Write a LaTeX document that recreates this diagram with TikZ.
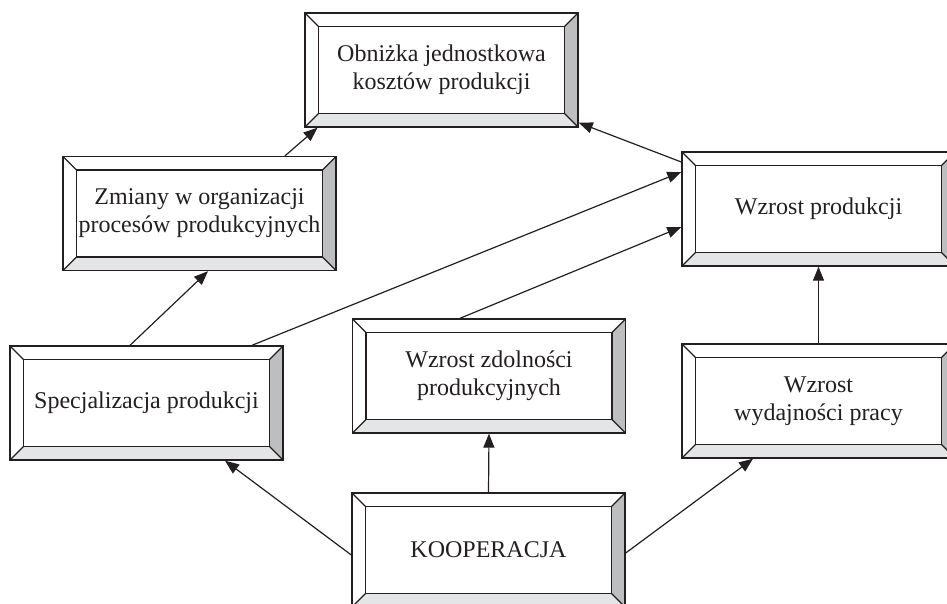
\documentclass[tikz,border=0pt]{standalone}
\usepackage{fontspec}
\setmainfont{Liberation Serif}
\usetikzlibrary{calc,arrows.meta}

\definecolor{ink}{HTML}{231F20}
\definecolor{sidegray}{HTML}{BDBEC0}
\definecolor{floorgray}{HTML}{E4E5E6}

\tikzset{
  bevelbox/.style={
    draw=ink, line width=1.4pt, fill=white,
    minimum width=273pt, minimum height=114pt, inner sep=0pt,
    align=center, text=ink, font=\fontsize{24}{28}\selectfont,
    path picture={
      \path (path picture bounding box.south west) coordinate (bsw)
            (path picture bounding box.north east) coordinate (bne);
      % shaded right and bottom faces of the frame
      \fill[sidegray] (bne) -- ($(bne)+(-13.5pt,-13.5pt)$)
        -- ($(bsw -| bne)+(-13.5pt,13.5pt)$) -- (bsw -| bne) -- cycle;
      \fill[floorgray] (bsw) -- ($(bsw)+(13.5pt,13.5pt)$)
        -- ($(bsw -| bne)+(-13.5pt,13.5pt)$) -- (bsw -| bne) -- cycle;
      % inner panel and mitred corners
      \draw[ink, line width=1.1pt] ($(bsw)+(13.5pt,13.5pt)$) rectangle ($(bne)+(-13.5pt,-13.5pt)$);
      \draw[ink, line width=1.1pt]
        (bsw) -- ($(bsw)+(13.5pt,13.5pt)$)
        (bne) -- ($(bne)+(-13.5pt,-13.5pt)$)
        (bsw |- bne) -- ($(bsw |- bne)+(13.5pt,-13.5pt)$)
        (bsw -| bne) -- ($(bsw -| bne)+(-13.5pt,13.5pt)$);
    }
  },
  link/.style={draw=ink, line width=1.2pt, -{Triangle[length=14pt,width=11pt]}}
}

\begin{document}
\begin{tikzpicture}[x=1pt,y=-1pt]
\useasboundingbox (0,0) rectangle (947,604);
\clip (0,0) rectangle (947,604);

\node[bevelbox] (A) at (441.5,70)  {Obniżka jednostkowa\\kosztów produkcji};
\node[bevelbox] (B) at (199.5,213.5) {Zmiany w organizacji\\procesów produkcyjnych};
\node[bevelbox] (C) at (146.5,403) {Specjalizacja produkcji};
\node[bevelbox] (D) at (489,376)   {Wzrost zdolności\\produkcyjnych};
\node[bevelbox] (E) at (818.5,401) {Wzrost\\wydajności pracy};
\node[bevelbox] (F) at (818.5,209) {Wzrost produkcji};
\node[bevelbox] (G) at (488.5,550) {KOOPERACJA};

\draw[link] ([xshift=85.5pt]B.north) -- ([xshift=-124pt]A.south);
\draw[link] ([yshift=47pt]F.west) -- ([yshift=5pt]A.south east);
\draw[link] ([xshift=-16.5pt]C.north) -- ([xshift=8.5pt]B.south);
\draw[link] ([xshift=105.5pt]C.north) -- ([yshift=37pt]F.west);
\draw[link] ([xshift=-29pt]D.north) -- ([yshift=-18pt]F.west);
\draw[link] (E.north) -- (F.south);
\draw[link] (G.north) -- (D.south);
\draw[link] ([yshift=-5pt]G.west) -- ([xshift=78.5pt]C.south);
\draw[link] ([yshift=-3pt]G.east) -- ([xshift=-65.5pt]E.south);
\end{tikzpicture}
\end{document}
